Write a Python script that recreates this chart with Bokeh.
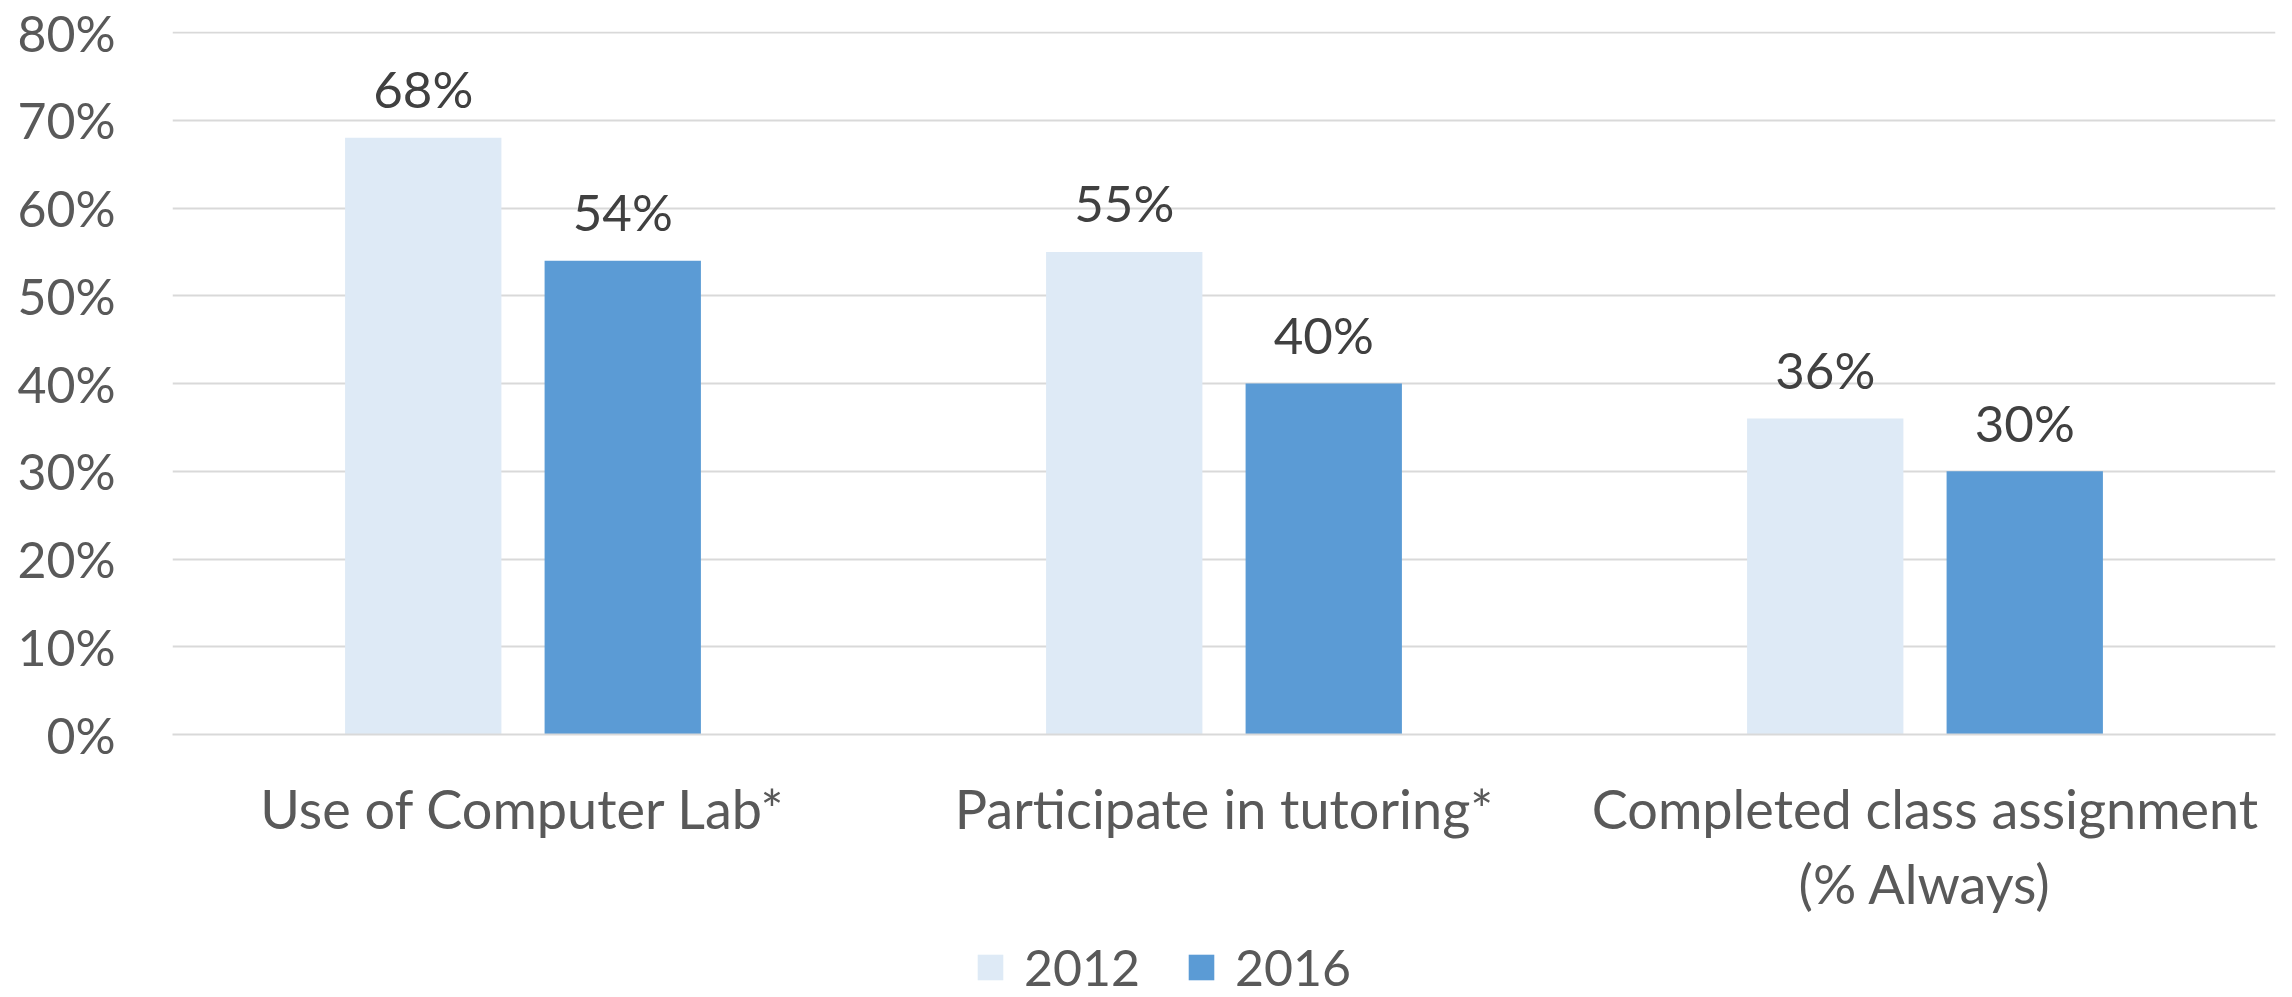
from bokeh.plotting import figure
from bokeh.layouts import column
from bokeh.models import (FactorRange, Range1d, ColumnDataSource, Legend, LegendItem,
                          PrintfTickFormatter, FixedTicker)
from bokeh.transform import dodge
from bokeh.core.properties import value
from bokeh.embed import file_html
from bokeh.resources import INLINE

categories = ["Use of Computer Lab*", "Participate in tutoring*", "Completed class assignment\n(% Always)"]
series_names = ["2012", "2016"]
values_2012 = [68, 55, 36]
values_2016 = [54, 40, 30]
y_ticks = [0, 10, 20, 30, 40, 50, 60, 70, 80]

FONT = "Lato"
C2012 = "#DEEAF6"
C2016 = "#5B9BD5"
GRID = "#D9D9D9"
AXIS_TXT = "#595959"
LBL_TXT = "#404040"

W = 2292
H_MAIN = 925
H_LEG = 997 - H_MAIN

src = ColumnDataSource(dict(
    cat=categories,
    v2012=values_2012,
    v2016=values_2016,
    t2012=[f"{v}%" for v in values_2012],
    t2016=[f"{v}%" for v in values_2016],
))

p = figure(width=W, height=H_MAIN, x_range=FactorRange(*categories, range_padding=0),
           y_range=Range1d(0, 80.114), output_backend="svg", toolbar_location=None,
           min_border_left=172, min_border_right=17, min_border_top=31,
           min_border_bottom=H_MAIN - 734)
p.x_range.range_padding = 0
p.outline_line_color = None

off = 0.1423
bw = 0.223
p.vbar(x=dodge("cat", -off, range=p.x_range), top="v2012", width=bw, source=src,
       fill_color=C2012, line_color=None)
p.vbar(x=dodge("cat", off, range=p.x_range), top="v2016", width=bw, source=src,
       fill_color=C2016, line_color=None)

for col, ycol, o in (("t2012", "v2012", -off), ("t2016", "v2016", off)):
    p.text(x=dodge("cat", o, range=p.x_range), y=ycol, text=col, source=src,
           text_font=value(FONT), text_font_size="51px", text_color=LBL_TXT,
           text_align="center", text_baseline="middle", y_offset=-49)

p.xgrid.grid_line_color = None
p.ygrid.grid_line_color = GRID
p.ygrid.grid_line_width = 2
p.yaxis.ticker = FixedTicker(ticks=y_ticks)
p.yaxis.formatter = PrintfTickFormatter(format="%d%%")
p.yaxis.axis_line_color = None
p.yaxis.major_tick_line_color = None
p.yaxis.minor_tick_line_color = None
p.yaxis.major_label_standoff = 51
p.yaxis.major_label_text_font = FONT
p.yaxis.major_label_text_font_size = "50px"
p.yaxis.major_label_text_color = AXIS_TXT

p.xaxis.axis_line_color = GRID
p.xaxis.axis_line_width = 2
p.xaxis.major_tick_line_color = None
p.xaxis.minor_tick_line_color = None
p.xaxis.major_label_standoff = 35
p.xaxis.major_label_text_font = FONT
p.xaxis.major_label_text_font_size = "54px"
p.xaxis.major_label_text_color = AXIS_TXT
p.xaxis.major_label_text_line_height = 1.156

# legend strip below the chart (its renderers are hidden; only the legend shows)
lf = figure(width=W, height=H_LEG, x_range=FactorRange(*categories), y_range=Range1d(0, 1),
            output_backend="svg", toolbar_location=None, min_border=0)
lf.axis.visible = False
lf.grid.visible = False
lf.outline_line_color = None
l1 = lf.vbar(x="cat", top="v2012", width=0.2, source=src, fill_color=C2012, line_color=None,
             visible=False)
l2 = lf.vbar(x="cat", top="v2016", width=0.2, source=src, fill_color=C2016, line_color=None,
             visible=False)
legend = Legend(items=[LegendItem(label=series_names[0], renderers=[l1]),
                       LegendItem(label=series_names[1], renderers=[l2])],
                orientation="horizontal", location=(802, 0),
                label_text_font=FONT, label_text_font_size="50px", label_text_color=AXIS_TXT,
                label_text_line_height=0.9,
                glyph_width=32, glyph_height=32, label_standoff=18, spacing=45,
                border_line_alpha=0, background_fill_alpha=0, inactive_fill_alpha=0,
                margin=0, padding=0)
lf.add_layout(legend, "center")

layout = column(p, lf, spacing=0)
open("out.html", "w").write(file_html(layout, INLINE))
